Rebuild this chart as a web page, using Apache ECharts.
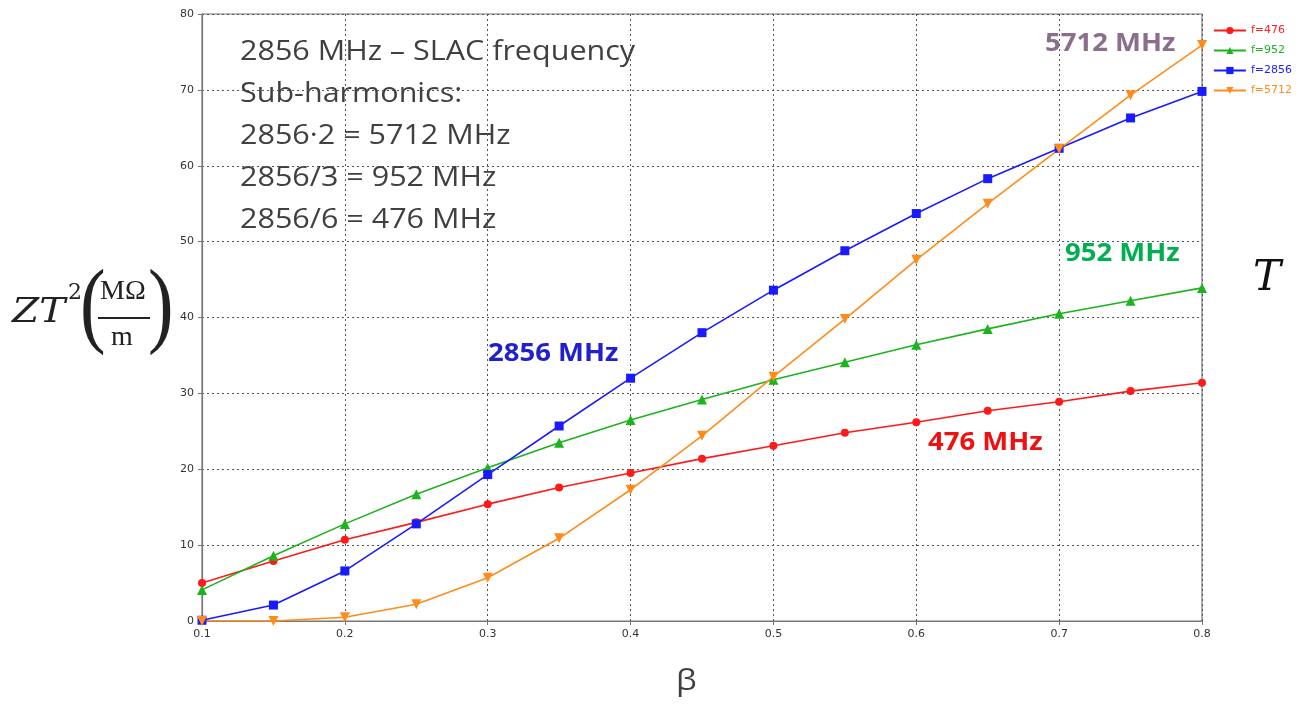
<!DOCTYPE html>
<html>
<head>
<meta charset="utf-8">
<script src="https://cdn.jsdelivr.net/npm/echarts@6/dist/echarts.min.js"></script>
<style>
  html, body { margin: 0; padding: 0; background: #fff; }
  #chart { width: 1303px; height: 704px; }
</style>
</head>
<body>
<div id="chart"></div>
<script>
// beta values on the x axis
const betas = [0.1, 0.15, 0.2, 0.25, 0.3, 0.35, 0.4, 0.45, 0.5, 0.55, 0.6, 0.65, 0.7, 0.75, 0.8];
// ZT^2 per frequency (MOhm/m)
const f476 = [5.0, 7.9, 10.7, 13.0, 15.4, 17.6, 19.5, 21.4, 23.1, 24.8, 26.2, 27.7, 28.9, 30.3, 31.4];
const f952 = [4.1, 8.6, 12.8, 16.7, 20.2, 23.5, 26.5, 29.2, 31.8, 34.1, 36.4, 38.5, 40.5, 42.2, 43.9];
const f2856 = [0.1, 2.1, 6.6, 12.8, 19.3, 25.7, 32.0, 38.0, 43.6, 48.8, 53.7, 58.3, 62.3, 66.3, 69.8];
const f5712 = [0.0, 0.0, 0.5, 2.2, 5.7, 10.9, 17.3, 24.4, 32.2, 39.8, 47.6, 55.0, 62.2, 69.3, 75.9];
const yTicks = [0, 10, 20, 30, 40, 50, 60, 70, 80];
const notes = ['2856 MHz \u2013 SLAC frequency', 'Sub-harmonics:', '2856\u00b72 = 5712 MHz', '2856/3 = 952 MHz', '2856/6 = 476 MHz'];

const chart = echarts.init(document.getElementById('chart'));

const pairs = arr => arr.map((v, i) => [betas[i], v]);
const mkSeries = (name, data, color, symbol, size, rotate) => ({
  name: name,
  type: 'line',
  data: pairs(data),
  symbol: symbol,
  symbolSize: size,
  symbolRotate: rotate || 0,
  lineStyle: { color: color, width: 1.6 },
  itemStyle: { color: color },
  animation: false
});

// plain text helper, x/y = top-left, sx = horizontal stretch
const txt = (x, y, text, size, color, extra, sx) => ({
  type: 'text', x: x, y: y, scaleX: sx || 1, silent: true,
  style: Object.assign({ text: text, fontSize: size, fill: color, fontFamily: 'Open Sans' }, extra || {})
});
const bold = { fontWeight: 'bold' };

const option = {
  backgroundColor: '#fff',
  grid: { left: 202, right: 101, top: 14, bottom: 83 },
  legend: {
    orient: 'vertical',
    right: 6,
    top: 20,
    itemWidth: 32,
    itemHeight: 9,
    itemGap: 9,
    textStyle: { fontSize: 11, fontFamily: 'Verdana, DejaVu Sans' },
    data: [
      { name: 'f=476', textStyle: { color: '#ff2020' } },
      { name: 'f=952', textStyle: { color: '#20b020' } },
      { name: 'f=2856', textStyle: { color: '#2020ff' } },
      { name: 'f=5712', textStyle: { color: '#ff8c20' } }
    ]
  },
  xAxis: {
    type: 'value',
    min: 0.1, max: 0.8, interval: 0.1,
    axisLine: { lineStyle: { color: '#777', width: 1.2 } },
    axisTick: { show: true, length: 4, lineStyle: { color: '#777' } },
    axisLabel: { fontSize: 11, color: '#333', fontFamily: 'Verdana, DejaVu Sans', margin: 8,
      formatter: v => (Math.round(v * 10) / 10).toString() },
    splitLine: { show: true, lineStyle: { color: '#555', type: [2, 3], width: 1 } }
  },
  yAxis: {
    type: 'value',
    min: 0, max: 80, interval: 10,
    axisLine: { show: true, lineStyle: { color: '#777', width: 1.2 } },
    axisTick: { show: true, length: 4, lineStyle: { color: '#777' } },
    axisLabel: { fontSize: 11, color: '#333', fontFamily: 'Verdana, DejaVu Sans', margin: 8,
      formatter: v => yTicks.includes(v) ? String(v) : '' },
    splitLine: { show: true, lineStyle: { color: '#555', type: [2, 3], width: 1 } }
  },
  series: [
    mkSeries('f=476', f476, '#ff1a1a', 'circle', 8),
    mkSeries('f=952', f952, '#1db31d', 'triangle', 10),
    mkSeries('f=2856', f2856, '#1a1aff', 'rect', 9),
    mkSeries('f=5712', f5712, '#ff8c1a', 'triangle', 10, 180)
  ],
  graphic: [
    // box top and right border
    { type: 'rect', shape: { x: 202, y: 14, width: 1000, height: 607 }, silent: true,
      style: { fill: 'none', stroke: '#777', lineWidth: 1.2 }, z: -1 },
    // notes block
    ...notes.map((t, i) => txt(240, 39 + i * 42, t, 27, '#404040', null, 1.13)),
    // frequency labels
    txt(1045, 31, '5712 MHz', 25, '#8a6f8a', bold, 1.1),
    txt(1065, 241, '952 MHz', 25, '#00b050', bold, 1.1),
    txt(488, 341, '2856 MHz', 25, '#2020cc', bold, 1.1),
    txt(928, 430, '476 MHz', 25, '#ee1111', bold, 1.1),
    // x axis name
    txt(676, 666, '\u03b2', 30, '#404040', { fontFamily: 'Open Sans, DejaVu Sans' }, 1.1),
    // y axis name ZT^2 (MOhm / m)
    txt(12, 296, 'ZT', 34, '#222', { fontStyle: 'italic', fontFamily: 'DejaVu Serif' }, 1.15),
    txt(68, 282, '2', 22, '#222', { fontFamily: 'DejaVu Serif' }),
    txt(80, 262, '(', 96, '#222', { fontFamily: 'Liberation Serif' }, 0.8),
    txt(100, 278, 'M\u03a9', 28, '#222', { fontFamily: 'Liberation Serif' }),
    { type: 'line', silent: true, shape: { x1: 98, y1: 318, x2: 150, y2: 318 }, style: { stroke: '#222', lineWidth: 2 } },
    txt(111, 324, 'm', 28, '#222', { fontFamily: 'Liberation Serif' }),
    txt(148, 262, ')', 96, '#222', { fontFamily: 'Liberation Serif' }, 0.8),
    // T on the right
    txt(1253, 258, 'T', 42, '#111', { fontStyle: 'italic', fontFamily: 'DejaVu Serif' })
  ]
};

option && chart.setOption(option);
</script>
</body>
</html>
